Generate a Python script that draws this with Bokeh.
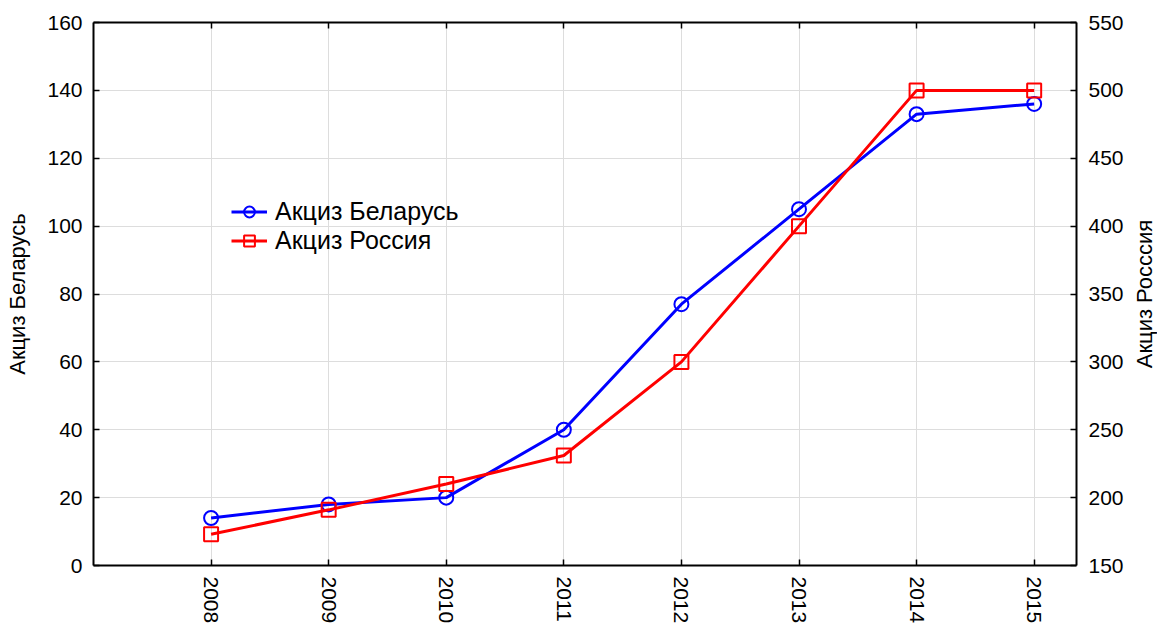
from math import pi
from bokeh.plotting import figure
from bokeh.layouts import row
from bokeh.models import LinearAxis, Range1d, FixedTicker, Legend, LegendItem
from bokeh.core.properties import value
from bokeh.embed import file_html
from bokeh.resources import INLINE

years = [2008, 2009, 2010, 2011, 2012, 2013, 2014, 2015]
belarus = [14, 18, 20, 40, 77, 105, 133, 136]
russia = [173, 191, 210, 231, 300, 400, 500, 500]
left_ticks = [0, 20, 40, 60, 80, 100, 120, 140, 160]
right_ticks = [150, 200, 250, 300, 350, 400, 450, 500, 550]
left_title = "Акциз Беларусь"
right_title = "Акциз Росссия"

FONT = "Liberation Sans"

p = figure(frame_width=983, frame_height=543, output_backend="svg",
           toolbar_location=None, x_range=Range1d(2007.0, 2015.36),
           y_range=Range1d(0, 160), min_border_left=93, min_border_top=22,
           min_border_right=55, min_border_bottom=60, x_axis_location=None,
           y_axis_location=None)
p.extra_y_ranges = {"r": Range1d(150, 550)}
p.outline_line_color = None

def style_axis(ax):
    ax.axis_line_color = "black"
    ax.axis_line_width = 2
    ax.major_tick_in = 6
    ax.major_tick_out = 0
    ax.major_tick_line_width = 1.5
    ax.major_tick_line_color = "black"
    ax.minor_tick_line_color = None
    ax.major_label_text_font = FONT
    ax.major_label_text_font_size = "21px"
    ax.major_label_text_color = "black"
    ax.axis_label_text_font = FONT
    ax.axis_label_text_font_size = "22px"
    ax.axis_label_text_font_style = "normal"
    ax.axis_label_text_color = "black"

xb = LinearAxis(ticker=FixedTicker(ticks=years))
style_axis(xb)
xb.major_label_orientation = "vertical"
xb.major_label_standoff = 11
p.add_layout(xb, "below")

xt = LinearAxis(ticker=FixedTicker(ticks=years))
style_axis(xt)
xt.major_label_overrides = {y: "" for y in years}
xt.major_label_standoff = 0
p.add_layout(xt, "above")

yl = LinearAxis(ticker=FixedTicker(ticks=left_ticks), axis_label=left_title)
style_axis(yl)
yl.major_label_standoff = 11
yl.axis_label_standoff = 14
p.add_layout(yl, "left")

yr = LinearAxis(y_range_name="r", ticker=FixedTicker(ticks=right_ticks))
style_axis(yr)
yr.major_label_standoff = 12
p.add_layout(yr, "right")

p.xgrid.ticker = FixedTicker(ticks=years)
p.ygrid.ticker = FixedTicker(ticks=left_ticks)
p.xgrid.grid_line_color = "#dddddd"
p.ygrid.grid_line_color = "#dddddd"
p.xgrid.grid_line_width = 1
p.ygrid.grid_line_width = 1

bl = p.line(years, belarus, line_color="#0000ff", line_width=3)
bm = p.scatter(years, belarus, marker="circle", size=14, line_color="#0000ff",
               fill_color=None, line_width=2)
rl = p.line(years, russia, line_color="#ff0000", line_width=3, y_range_name="r")
rm = p.scatter(years, russia, marker="square", size=14, line_color="#ff0000",
               fill_color=None, line_width=2, y_range_name="r")

legend = Legend(items=[LegendItem(label="Акциз Беларусь", renderers=[bl, bm]),
                       LegendItem(label="Акциз Россия", renderers=[rl, rm])],
                location=(138, 310))
legend.border_line_color = None
legend.background_fill_alpha = 0
legend.label_text_font = FONT
legend.label_text_font_size = "25px"
legend.label_text_color = "black"
legend.label_height = 20
legend.glyph_width = 36
legend.glyph_height = 27
legend.label_standoff = 8
legend.spacing = 0
legend.padding = 0
legend.margin = 0
p.add_layout(legend, "center")

# narrow side panel carrying the right axis title (reads bottom to top)
p2 = figure(frame_width=26, frame_height=543, output_backend="svg",
            toolbar_location=None, x_range=Range1d(0, 26), y_range=Range1d(0, 1),
            min_border_left=0, min_border_right=0, min_border_top=22,
            min_border_bottom=60, x_axis_location=None, y_axis_location=None)
p2.outline_line_color = None
p2.grid.visible = False
p2.text(x=[13], y=[0.5], text=[right_title], angle=pi / 2,
        text_align="center", text_baseline="middle",
        text_font=value(FONT), text_font_size="22px", text_color="black")

layout = row(p, p2)
open("out.html", "w").write(file_html(layout, INLINE))
